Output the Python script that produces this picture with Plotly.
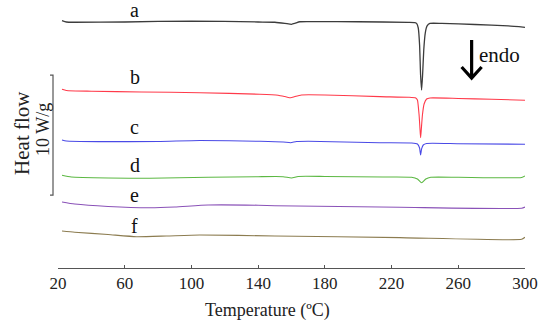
import plotly.graph_objects as go

# Temperature (ºC) and heat flow (W/g, vertically offset) for each curve
T_a = [22.4, 25, 30, 60, 100, 140, 150, 156, 160, 162, 165, 175, 200, 230, 234, 235.0, 236.0, 236.8, 237.4, 238.0, 238.6, 239.3, 240.2, 241.3, 243, 250, 270, 290, 300]
H_a = [20.61, 20.50, 20.48, 20.50, 20.58, 20.50, 20.48, 20.39, 20.31, 20.38, 20.52, 20.53, 20.52, 20.47, 20.45, 20.38, 20.00, 18.58, 16.08, 14.83, 16.08, 18.17, 19.58, 20.17, 20.38, 20.38, 20.29, 20.17, 20.06]

T_b = [22.4, 25, 40, 70, 105, 141, 152, 157, 159.5, 162, 166, 180, 213, 230, 234.5, 235.5, 236.5, 237.0, 237.4, 237.8, 238.5, 239.5, 241, 243, 260, 280, 300]
H_b = [14.89, 14.79, 14.73, 14.67, 14.61, 14.48, 14.39, 14.25, 14.19, 14.29, 14.42, 14.42, 14.28, 14.23, 14.17, 14.00, 12.75, 11.67, 10.86, 11.50, 12.75, 13.67, 14.08, 14.17, 14.13, 14.06, 13.98]

T_c = [22.4, 25, 45, 80, 105, 141, 155, 159.5, 163, 170, 213, 232, 235.5, 236.8, 237.4, 238.0, 239, 241, 260, 300]
H_c = [10.67, 10.58, 10.53, 10.54, 10.63, 10.56, 10.50, 10.44, 10.54, 10.56, 10.44, 10.42, 10.33, 10.00, 9.42, 9.92, 10.25, 10.38, 10.36, 10.31]

T_d = [22.4, 28, 50, 75, 110, 140, 155, 160, 164, 180, 215, 232, 235.5, 238, 240.5, 243.5, 260, 298, 300]
H_d = [7.73, 7.58, 7.50, 7.48, 7.56, 7.61, 7.61, 7.50, 7.63, 7.63, 7.58, 7.56, 7.42, 7.11, 7.42, 7.56, 7.56, 7.54, 7.67]

T_e = [22.4, 30, 50, 75, 90, 110, 140, 150, 225, 298, 300]
H_e = [5.50, 5.33, 5.13, 5.02, 5.08, 5.25, 5.23, 5.19, 5.06, 4.98, 5.08]

T_f = [22.4, 30, 50, 67, 85, 105, 150, 225, 298, 300]
H_f = [3.08, 2.98, 2.79, 2.61, 2.67, 2.75, 2.67, 2.53, 2.39, 2.56]

names = ["a", "b", "c", "d", "e", "f"]
colors = ["#3c3c3c", "#ff3a4a", "#4a4ae6", "#5cb843", "#8a52b8", "#8c7c50"]
label_T = 66
label_H = [21.52, 15.89, 11.72, 8.55, 6.11, 3.53]

x_ticks = [20, 60, 100, 140, 180, 220, 260, 300]

series = [(T_a, H_a), (T_b, H_b), (T_c, H_c), (T_d, H_d), (T_e, H_e), (T_f, H_f)]

SERIF = "Liberation Serif"

fig = go.Figure()
for (t, h), n, c in zip(series, names, colors):
    fig.add_trace(go.Scatter(x=t, y=h, mode="lines", name=n,
                             line=dict(color=c, width=1.3 if n == "a" else 1.1, shape="spline", smoothing=0.5),
                             showlegend=False, hoverinfo="skip"))

annotations = []
for n, yv in zip(names, label_H):
    annotations.append(dict(x=label_T, y=yv, xref="x", yref="y", text=n, showarrow=False,
                            font=dict(family=SERIF, size=20, color="#111"),
                            xanchor="center", yanchor="middle"))

annotations += [
    dict(x=0.4486, y=-0.157, xref="paper", yref="paper", text="Temperature (ºC)", showarrow=False,
         font=dict(family=SERIF, size=18, color="#222"), xanchor="center", yanchor="middle"),
    dict(x=-0.0771, y=0.504, xref="paper", yref="paper", text="Heat flow", showarrow=False, textangle=-90,
         font=dict(family=SERIF, size=21, color="#222"), xanchor="center", yanchor="middle"),
    dict(x=-0.0321, y=0.515, xref="paper", yref="paper", text="10 W/g", showarrow=False, textangle=-90,
         font=dict(family=SERIF, size=18, color="#222"), xanchor="center", yanchor="middle"),
    dict(x=285, y=17.72, xref="x", yref="y", text="endo", showarrow=False,
         font=dict(family=SERIF, size=21, color="#111"), xanchor="center", yanchor="middle"),
]

shapes = [
    # scale bar (10 W/g)
    dict(type="path", xref="paper", yref="y",
         path="M -0.0171,16.08 L -0.0107,16.08 L -0.0107,6.08 L -0.0171,6.08",
         line=dict(color="#555", width=1.2)),
    # endo arrow
    dict(type="path", xref="x", yref="y",
         path="M 268,19.0 L 268,15.83 M 262,16.75 L 268,15.83 L 274,16.75",
         line=dict(color="#000", width=3.2)),
]

fig.update_layout(
    width=550, height=327,
    margin=dict(l=58, r=25, t=0, b=59),
    paper_bgcolor="white", plot_bgcolor="white",
    annotations=annotations, shapes=shapes,
    xaxis=dict(range=[20, 300], tickvals=x_ticks, ticktext=[str(v) for v in x_ticks],
               showline=True, linecolor="#555", linewidth=1, ticks="inside", ticklen=3,
               tickcolor="#555", showgrid=False, zeroline=False,
               tickfont=dict(family=SERIF, size=17, color="#222")),
    yaxis=dict(range=[0, 22.333], visible=False, showgrid=False, zeroline=False),
)

fig.write_html("out.html", config={"displayModeBar": False, "staticPlot": True},
               post_script="document.body.style.margin='0px';document.body.style.padding='0px';")
